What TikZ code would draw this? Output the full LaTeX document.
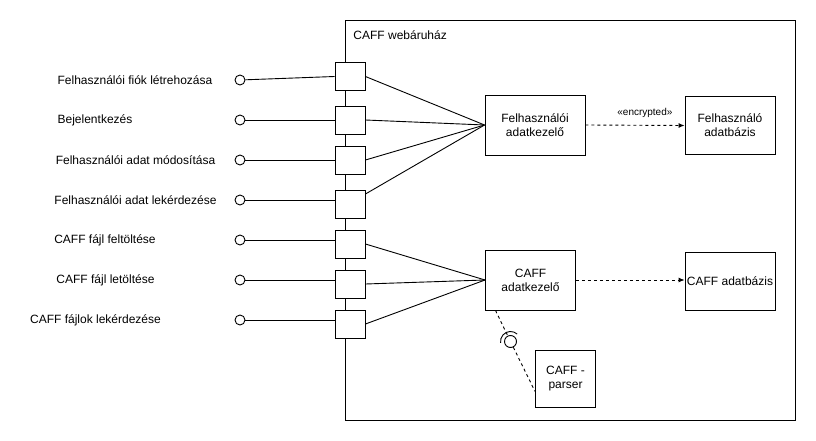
\documentclass[tikz,border=0pt]{standalone}
\usepackage{fontspec}
\setmainfont{Liberation Sans}
\usetikzlibrary{arrows.meta}

\begin{document}
\begin{tikzpicture}[x=1pt, y=-1pt, line width=0.9pt, font=\fontsize{12}{14}\selectfont,
  port/.style={draw, fill=white, minimum width=30pt, minimum height=28pt, inner sep=0pt},
  iface/.style={circle, draw, fill=white, minimum size=10pt, inner sep=0pt},
  comp/.style={draw, fill=white, align=center, inner sep=0pt},
  usecase/.style={inner sep=0pt},
  dep/.style={dash pattern=on 3pt off 3pt, -{Latex[length=6pt,width=5pt]}}]

        \useasboundingbox (0,0) rectangle (816,441);
        \node[draw, minimum width=450pt, minimum height=400pt, inner sep=0pt] (shop) at (570,220) {};
        \node[anchor=west, inner sep=0pt] (title) at (353,35) {CAFF webáruház};

        \node[port] (p1) at (350,76.5) {};
        \node[port] (p2) at (350,120) {};
        \node[port] (p3) at (350,160) {};
        \node[port] (p4) at (350,204) {};
        \node[port] (p5) at (350,244) {};
        \node[port] (p6) at (350,284) {};
        \node[port] (p7) at (350,324) {};

        \node[iface] (i1) at (240,80) {};
        \node[iface] (i2) at (240,120) {};
        \node[iface] (i3) at (240,160) {};
        \node[iface] (i4) at (240,200) {};
        \node[iface] (i5) at (240,240) {};
        \node[iface] (i6) at (240,280) {};
        \node[iface] (i7) at (240,320) {};

        \node[usecase] (l1) at (135,80)  {Felhasználói fiók létrehozása};
        \node[usecase] (l2) at (95,120)  {Bejelentkezés};
        \node[usecase] (l3) at (135.5,160) {Felhasználói adat módosítása};
        \node[usecase] (l4) at (135.5,200) {Felhasználói adat lekérdezése};
        \node[usecase] (l5) at (105,240) {CAFF fájl feltöltése};
        \node[usecase] (l6) at (105.5,280) {CAFF fájl letöltése};
        \node[usecase] (l7) at (95.5,320) {CAFF fájlok lekérdezése};

        \node[comp, minimum width=100pt, minimum height=60pt] (useradm) at (535,125) {Felhasználói\\adatkezelő};
        \node[comp, minimum width=90pt, minimum height=58pt] (userdb) at (730,125.5) {Felhasználó\\adatbázis};
        \node[comp, minimum width=90pt, minimum height=60pt] (caffadm) at (530.5,280) {CAFF\\adatkezelő};
        \node[comp, minimum width=90pt, minimum height=58pt] (caffdb) at (730,281) {CAFF adatbázis};
        \node[comp, minimum width=60pt, minimum height=57pt] (parser) at (565.5,378.5) {CAFF -\\parser};
        \node[circle, draw, minimum size=12pt, inner sep=0pt] (ball) at (510.5,341.5) {};

        \draw (i1) -- (p1.west);
        \draw (i2) -- (p2.west);
        \draw (i3) -- (p3.west);
        \draw (i4) -- (i4 -| p4.west);
        \draw (i5) -- (i5 -| p5.west);
        \draw (i6) -- (i6 -| p6.west);
        \draw (i7) -- (i7 -| p7.west);

        \draw (p1.east) -- (useradm.west);
        \draw (p2.east) -- (useradm.west);
        \draw (p3.east) -- (useradm.west);
        \draw ([yshift=10pt]p4.east) -- (useradm.west);
        \draw (p5.east) -- (caffadm.west);
        \draw (p6.east) -- (caffadm.west);
        \draw (p7.east) -- (caffadm.west);

        \draw[dep] (useradm.east) -- (userdb.west)
            node[pos=0.6, above=7pt, inner sep=0pt, font=\fontsize{10}{12}\selectfont] (enc) {«encrypted»};
        \draw[dep] (caffadm.east) -- (caffadm.east -| caffdb.west);

        \draw[dash pattern=on 3pt off 3pt] ([xshift=-35pt]caffadm.south) -- (ball);
        \draw[dash pattern=on 3pt off 3pt] (ball) -- ([yshift=-13pt]parser.west);
        \draw (ball.center) ++(48:10pt) arc[start angle=48, end angle=188, radius=10pt];

    \end{tikzpicture}
\end{document}
